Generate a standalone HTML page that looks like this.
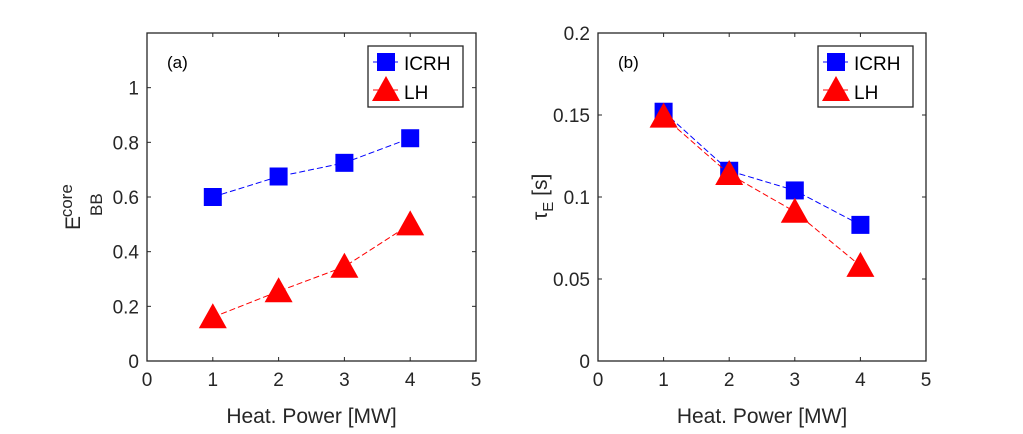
<!DOCTYPE html>
<html><head><meta charset="utf-8"><style>
body{margin:0;background:#fff;}
svg{display:block;font-family:"Liberation Sans",Arial,sans-serif;}
</style></head><body>
<svg id="c" width="1023" height="434" viewBox="0 0 1023 434"></svg>
<script>
const xCats=[1,2,3,4];
const aICRH=[0.6,0.675,0.725,0.815];
const aLH=[0.16,0.255,0.345,0.5];
const bICRH=[0.152,0.116,0.104,0.083];
const bLH=[0.149,0.114,0.091,0.058];
const xTicks=[0,1,2,3,4,5];
const aYTicks=[0,0.2,0.4,0.6,0.8,1];
const bYTicks=[0,0.05,0.1,0.15,0.2];
const svg=document.getElementById('c');
const NS='http://www.w3.org/2000/svg';
function mk(t,a,p){const e=document.createElementNS(NS,t);for(const k in a)e.setAttribute(k,a[k]);(p||svg).appendChild(e);return e;}
function panel(name,L,R,T,B,ymax,yt,s1,s2,label,legX){
  const g=mk('g',{});
  
  
  const xs=v=>L+(v-0)/5*(R-L);
  const ys=v=>B-v/ymax*(B-T);
  mk('rect',{x:L,y:T,width:R-L,height:B-T,fill:'#fff',stroke:'#262626','stroke-width':1.3},g);
  xTicks.forEach(v=>{const x=xs(v);
    mk('line',{x1:x,x2:x,y1:B,y2:B-4,stroke:'#262626'},g);
    mk('line',{x1:x,x2:x,y1:T,y2:T+4,stroke:'#262626'},g);
    const t=mk('text',{x:x,y:B+25,'text-anchor':'middle','font-size':19,fill:'#262626'},g);t.textContent=v;
    });
  yt.forEach(v=>{const y=ys(v);
    mk('line',{x1:L,x2:L+4,y1:y,y2:y,stroke:'#262626'},g);
    mk('line',{x1:R,x2:R-4,y1:y,y2:y,stroke:'#262626'},g);
    const t=mk('text',{x:L-8,y:y+7,'text-anchor':'end','font-size':19,fill:'#262626'},g);t.textContent=v;
    });
  const xl=mk('text',{x:(L+R)/2,y:B+62,'text-anchor':'middle','font-size':21,fill:'#262626'},g);xl.textContent='Heat. Power [MW]';
  
  const pl=mk('text',{x:L+20,y:T+35,'font-size':17,fill:'#000'},g);pl.textContent=label;
  
  function series(vals,col,shape,sname){
    const pts=xCats.map((c,i)=>[xs(c),ys(vals[i])]);
    const ln=mk('polyline',{points:pts.map(p=>p.join(',')).join(' '),fill:'none',stroke:col,'stroke-width':1,'stroke-dasharray':'6,3'},g);
    
    pts.forEach(p=>{let m;
      if(shape==='sq')m=mk('rect',{x:p[0]-9,y:p[1]-9,width:18,height:18,fill:col},g);
      else m=mk('polygon',{points:`${p[0]},${p[1]-14} ${p[0]-14},${p[1]+11} ${p[0]+14},${p[1]+11}`,fill:col},g);
      });
  }
  series(s1,'#0000ff','sq','icrh');
  series(s2,'#ff0000','tri','lh');
  const lg=mk('g',{},g);
  
  mk('rect',{x:legX,y:46,width:95,height:61,fill:'#fff',stroke:'#262626','stroke-width':1.3},lg);
  mk('line',{x1:legX+5,x2:legX+30,y1:62,y2:62,stroke:'#0000ff'},lg);
  mk('rect',{x:legX+9,y:53,width:18,height:18,fill:'#0000ff'},lg);
  mk('line',{x1:legX+5,x2:legX+30,y1:90,y2:90,stroke:'#ff0000'},lg);
  mk('polygon',{points:`${legX+18},${76} ${legX+4},${101} ${legX+32},${101}`,fill:'#ff0000'},lg);
  const t1=mk('text',{x:legX+36,y:70,'font-size':19,fill:'#000'},lg);t1.textContent='ICRH';
  
  const t2=mk('text',{x:legX+36,y:99,'font-size':19,fill:'#000'},lg);t2.textContent='LH';
  
}
panel('panel-a',147,476,33,361,1.2,aYTicks,aICRH,aLH,'(a)',368);
panel('panel-b',598,926,33,361,0.2,bYTicks,bICRH,bLH,'(b)',818);
// y titles
const ya=mk('text',{transform:'translate(80,230) rotate(-90)','font-size':21,fill:'#262626'});

ya.innerHTML='E<tspan dy="22" font-size="17">BB</tspan><tspan dx="-24" dy="-30" font-size="17">core</tspan>';
const yb=mk('text',{transform:'translate(547,220) rotate(-90)','font-size':21,fill:'#262626'});

yb.innerHTML='τ<tspan dy="6" font-size="15">E</tspan><tspan dy="-6"> [s]</tspan>';
</script>
</body></html>
